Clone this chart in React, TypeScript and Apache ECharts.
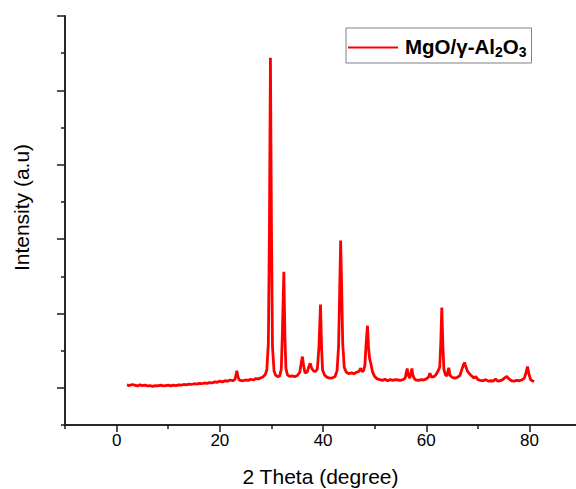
import React, { useEffect, useRef } from "react";
import * as echarts from "echarts";

const seriesName = "MgO/γ-Al2O3";

const twoTheta = [
  2.0, 2.5, 3.0, 3.5, 4.0, 4.5, 5.0, 5.5, 6.0, 6.5, 7.0, 7.5, 8.0, 8.5, 9.0, 9.5,
  10.0, 10.5, 11.0, 11.5, 12.0, 12.5, 13.0, 13.5, 14.0, 14.5, 15.0, 15.5, 16.0, 16.5,
  17.0, 17.5, 18.0, 18.5, 19.0, 19.5, 20.0, 20.5, 21.0, 21.5, 22.0, 22.5, 22.9, 23.1,
  23.3, 23.5, 23.7, 24.0, 24.5, 25.0, 25.5, 26.0, 26.5, 27.0, 27.5, 28.0, 28.4, 28.8,
  29.1, 29.4, 29.6, 29.8, 30.0, 30.2, 30.5, 30.8, 31.2, 31.6, 31.9, 32.1, 32.4, 32.6,
  32.8, 33.1, 33.5, 34.0, 34.5, 35.0, 35.5, 35.8, 36.0, 36.2, 36.5, 36.9, 37.2, 37.5,
  37.8, 38.2, 38.6, 38.9, 39.2, 39.5, 39.7, 39.9, 40.3, 40.8, 41.3, 41.8, 42.3, 42.7,
  43.0, 43.2, 43.4, 43.6, 43.8, 44.1, 44.5, 45.0, 45.5, 46.0, 46.5, 46.9, 47.1, 47.3,
  47.5, 47.8, 48.1, 48.3, 48.6, 48.8, 49.0, 49.3, 49.6, 50.0, 50.5, 51.0, 51.5, 52.0,
  52.5, 53.0, 53.5, 54.0, 54.5, 55.0, 55.5, 55.9, 56.1, 56.3, 56.5, 56.8, 57.0, 57.2,
  57.4, 57.7, 58.0, 58.5, 59.0, 59.5, 60.0, 60.4, 60.7, 61.0, 61.5, 61.9, 62.3, 62.6,
  62.8, 63.0, 63.2, 63.4, 63.7, 64.0, 64.2, 64.35, 64.6, 65.0, 65.5, 66.0, 66.5, 66.9,
  67.2, 67.4, 67.7, 68.0, 68.4, 68.8, 69.2, 69.6, 70.0, 70.5, 71.0, 71.5, 72.0, 72.5,
  73.0, 73.4, 73.8, 74.3, 74.8, 75.2, 75.6, 76.0, 76.5, 77.0, 77.5, 78.0, 78.5, 79.0,
  79.3, 79.6, 79.9, 80.2, 80.5, 80.9,
];

const intensity = [
  8, 6, 9, 7, 5, 8, 6, 7, 5, 6, 4, 6, 5, 7, 5, 6,
  7, 5, 7, 6, 8, 7, 9, 8, 10, 9, 11, 10, 12, 11,
  13, 12, 14, 13, 16, 15, 18, 16, 19, 18, 21, 19, 22, 32,
  46, 30, 22, 20, 19, 21, 20, 23, 21, 25, 24, 27, 30, 36,
  48, 120, 420, 888, 430, 110, 45, 34, 30, 32, 50, 140, 312, 140,
  52, 35, 31, 32, 30, 33, 42, 70, 84, 62, 40, 42, 55, 66,
  52, 45, 44, 52, 110, 224, 110, 48, 34, 28, 26, 27, 30, 45,
  110, 250, 396, 270, 120, 55, 42, 38, 40, 38, 42, 44, 48, 53,
  44, 45, 60, 110, 167, 110, 80, 62, 42, 30, 24, 22, 20, 23,
  19, 22, 20, 22, 21, 20, 22, 26, 40, 52, 34, 26, 38, 52,
  34, 24, 21, 20, 22, 21, 24, 28, 39, 29, 30, 36, 46, 56,
  120, 216, 120, 50, 35, 32, 45, 54, 34, 28, 26, 28, 33, 50,
  62, 68, 55, 44, 37, 32, 26, 30, 22, 20, 19, 22, 18, 19,
  18, 24, 18, 19, 22, 27, 31, 24, 19, 18, 20, 19, 21, 26,
  40, 57, 36, 22, 19, 17,
];

const xMajorTicks = [0, 20, 40, 60, 80];
const xMinorTicks = [-10, 10, 30, 50, 70];
const yMajorTicks = [0, 200, 400, 600, 800, 1000];
const yMinorTicks = [-100, 100, 300, 500, 700, 900];

const FONT = "'Liberation Sans', Arial, sans-serif";
const AXIS_COLOR = "#1a1a1a";

export default function App() {
  const ref = useRef<HTMLDivElement>(null);

  useEffect(() => {
    if (!ref.current) return;
    const chart = echarts.init(ref.current, undefined, { renderer: "svg" });

    const xBase = {
      type: "value" as const,
      min: -10,
      max: 89,
      position: "bottom" as const,
      gridIndex: 0,
      axisLine: { show: true, onZero: false, lineStyle: { color: AXIS_COLOR, width: 1.5 } },
      splitLine: { show: false },
    };
    const yBase = {
      type: "value" as const,
      min: -100,
      max: 1000,
      position: "left" as const,
      gridIndex: 0,
      axisLine: { show: true, onZero: false, lineStyle: { color: AXIS_COLOR, width: 1.5 } },
      splitLine: { show: false },
    };

    chart.setOption({
      animation: false,
      backgroundColor: "#ffffff",
      textStyle: { fontFamily: FONT },
      grid: {
        left: 65,
        top: 16,
        right: 0,
        bottom: 64,
        containLabel: false,
        outerBoundsMode: "none",
      },
      xAxis: [
        {
          ...xBase,
          axisTick: {
            show: true,
            length: 4,
            customValues: xMinorTicks,
            lineStyle: { color: AXIS_COLOR, width: 1.5 },
          },
          axisLabel: { show: false },
        },
        {
          ...xBase,
          name: "2 Theta (degree)",
          nameLocation: "middle",
          nameGap: 41,
          nameTextStyle: { fontSize: 21, color: "#000", fontFamily: FONT },
          axisTick: {
            show: true,
            length: 7,
            customValues: xMajorTicks,
            lineStyle: { color: AXIS_COLOR, width: 1.5 },
          },
          axisLabel: {
            show: true,
            customValues: xMajorTicks,
            fontSize: 17,
            color: "#000",
            margin: 7,
            fontFamily: FONT,
          },
        },
      ],
      yAxis: [
        {
          ...yBase,
          axisTick: {
            show: true,
            length: 8,
            customValues: yMajorTicks,
            lineStyle: { color: AXIS_COLOR, width: 1.5 },
          },
          axisLabel: { show: false },
        },
        {
          ...yBase,
          axisTick: {
            show: true,
            length: 4,
            customValues: yMinorTicks,
            lineStyle: { color: AXIS_COLOR, width: 1.5 },
          },
          axisLabel: { show: false },
        },
      ],
      legend: {
        show: true,
        left: 346,
        top: 28,
        orient: "horizontal",
        backgroundColor: "#fff",
        borderColor: "#808080",
        borderWidth: 1,
        padding: [5, 5, 4, 2],
        icon: "rect",
        itemWidth: 50,
        itemHeight: 2,
        itemGap: 5,
        data: [seriesName],
        formatter: () => "{b|MgO/γ-Al}{s|2}{b|O}{s|3}",
        textStyle: {
          fontFamily: FONT,
          padding: [0, 0, 0, 2],
          rich: {
            b: { fontSize: 20.5, fontWeight: "bold", color: "#000", fontFamily: FONT, lineHeight: 23, verticalAlign: "top" },
            s: { fontSize: 14, fontWeight: "bold", color: "#000", fontFamily: FONT, lineHeight: 23, verticalAlign: "bottom", padding: [12, 0, 0, 0] },
          },
        },
      },
      graphic: [
        {
          type: "text",
          x: 21,
          y: 207.5,
          rotation: Math.PI / 2,
          style: {
            text: "Intensity (a.u)",
            fontSize: 21,
            fontFamily: FONT,
            fill: "#000",
            align: "center",
            verticalAlign: "middle",
          },
        },
      ],
      series: [
        {
          name: seriesName,
          type: "line",
          xAxisIndex: 1,
          yAxisIndex: 0,
          showSymbol: false,
          symbol: "none",
          data: twoTheta.map((t, i) => [t, intensity[i]]),
          lineStyle: { color: "#ff0000", width: 2.8 },
          itemStyle: { color: "#ff0000" },
        },
      ],
    });

    return () => chart.dispose();
  }, []);

  return (
    <div
      ref={ref}
      style={{ position: "fixed", left: 0, top: 0, width: 576, height: 489 }}
    />
  );
}
